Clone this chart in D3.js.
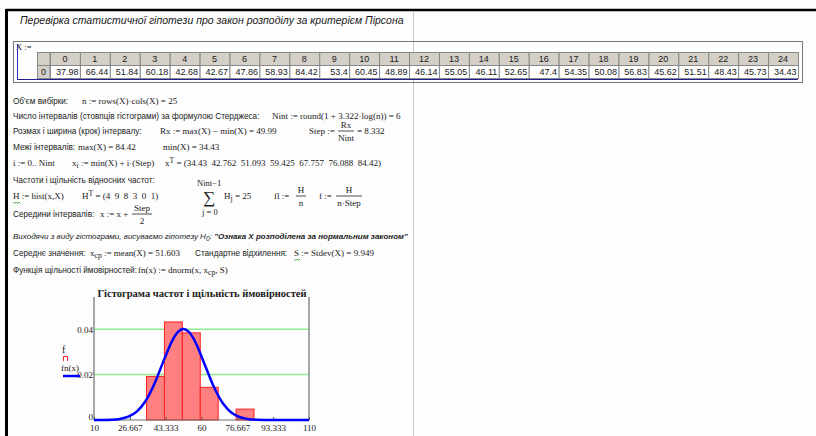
<!DOCTYPE html>
<html>
<head>
<meta charset="utf-8">
<script src="https://cdn.jsdelivr.net/npm/d3@7"></script>
<style>
  body { margin: 0; background: #fdfdfd; }
  text { fill: #1a1a1a; white-space: pre; }
</style>
</head>
<body>
<script>
// sample values X (row 0, columns 0..24)
var sampleX = [37.98, 66.44, 51.84, 60.18, 42.68, 42.67, 47.86, 58.93, 84.42, 53.4, 60.45, 48.89,
               46.14, 55.05, 46.11, 52.65, 47.4, 54.35, 50.08, 56.83, 45.62, 51.51, 48.43, 45.73, 34.43];
// interval bounds and counts as printed in the sheet
var intervalEdges = [34.43, 42.762, 51.093, 59.425, 67.757, 76.088, 84.42];
var freqH = [4, 9, 8, 3, 0, 1];
var nSample = 25, stepWidth = 8.332;
// density curve fn(x)
var densityX = [10, 14, 18, 22, 26, 30, 34, 38, 42, 46, 48, 50, 51.6, 54, 56, 58, 62, 66, 70, 74, 78, 82, 86, 90, 94, 98, 102, 106, 110];
var densityY = [0.00001, 0.00003, 0.00013, 0.00048, 0.00146, 0.0038, 0.00838, 0.01575, 0.02517, 0.03422, 0.03755, 0.03958, 0.0401,
                0.03895, 0.03637, 0.03261, 0.02323, 0.01407, 0.00726, 0.00318, 0.00119, 0.00038, 0.0001, 0.00003, 0, 0, 0, 0, 0];
// axis ticks
var xTickValues = [10, 26.667, 43.333, 60, 76.667, 93.333, 110];
var xTickLabels = ['10', '26.667', '43.333', '60', '76.667', '93.333', '110'];
var yTickValues = [0, 0.02, 0.04];
var yTickLabels = ['0', '0.02', '0.04'];

var W = 816, H = 436;
var SANS = 'Liberation Sans, Arial, sans-serif',
    SERIF = 'Liberation Serif, Times New Roman, serif';

var svg = d3.select('body').append('svg')
    .attr('width', W)
    .attr('height', H);

svg.append('rect').attr('width', W).attr('height', H).attr('fill', '#fdfdfd');

// page frame (black corner) and page break line
svg.append('line').attr('x1', 6).attr('x2', W).attr('y1', 10).attr('y2', 10)
    .attr('stroke', '#000').attr('stroke-width', 2.5);
svg.append('line').attr('x1', 6.5).attr('x2', 6.5).attr('y1', 9).attr('y2', H)
    .attr('stroke', '#000').attr('stroke-width', 3);
svg.append('line').attr('x1', 413.5).attr('x2', 413.5).attr('y1', 11).attr('y2', H)
    .attr('stroke', '#c8c8c8').attr('stroke-width', 1);

// helper: text made of pieces, piece = [string, kind] kind: sub / sup / bold / null
function mtext(x, y, parts, font, size, extra) {
    var t = svg.append('text').attr('x', x).attr('y', y)
        .style('font-family', font).style('font-size', size + 'px');
    if (extra) extra(t);
    parts.forEach(function(p) {
        if (typeof p === 'string') p = [p, null];
        var s = t.append('tspan').text(p[0]);
        if (p[1] === 'sub') s.attr('baseline-shift', '-25%').style('font-size', (size * 0.85) + 'px');
        if (p[1] === 'sup') s.attr('baseline-shift', '40%').style('font-size', (size * 0.85) + 'px');
        if (p[1] === 'bold') s.style('font-weight', 'bold');
    });
    return t;
}
function frac(xc, yLine, top, bottom, w, size) {
    svg.append('text').attr('x', xc).attr('y', yLine - 3).attr('text-anchor', 'middle')
        .style('font-family', SERIF).style('font-size', size + 'px').text(top);
    svg.append('line').attr('x1', xc - w / 2).attr('x2', xc + w / 2).attr('y1', yLine).attr('y2', yLine)
        .attr('stroke', '#222').attr('stroke-width', 0.8);
    svg.append('text').attr('x', xc).attr('y', yLine + 10).attr('text-anchor', 'middle')
        .style('font-family', SERIF).style('font-size', size + 'px').text(bottom);
}

var TS = 8.2, MS = 9;

// title
mtext(20, 24, ['Перевірка статистичної гіпотези про закон розподілу за критерієм Пірсона'], SANS, 10.5,
    function(t) { t.style('font-style', 'italic'); });

// matrix X
svg.append('rect').attr('x', 13.5).attr('y', 41.5).attr('width', 789).attr('height', 41)
    .attr('fill', 'none').attr('stroke', '#777').attr('stroke-width', 1);
mtext(16, 50, ['X :='], SERIF, 8.5);
svg.append('line').attr('x1', 17.5).attr('x2', 17.5).attr('y1', 44).attr('y2', 80)
    .attr('stroke', '#3030c0').attr('stroke-width', 1);
svg.append('line').attr('x1', 17).attr('x2', 798).attr('y1', 79.5).attr('y2', 79.5)
    .attr('stroke', '#202090').attr('stroke-width', 1.2);

var colX = d3.scaleBand().domain(d3.range(sampleX.length)).range([50, 798]);
var hdrY = 52, rowH = 13;
// index column
svg.append('rect').attr('x', 37.5).attr('y', hdrY + 0.5).attr('width', 12.5).attr('height', rowH)
    .attr('fill', '#d4d0c8').attr('stroke', '#888');
svg.append('rect').attr('x', 37.5).attr('y', hdrY + rowH + 0.5).attr('width', 12.5).attr('height', rowH)
    .attr('fill', '#d4d0c8').attr('stroke', '#888');
svg.append('text').attr('x', 43.5).attr('y', hdrY + rowH + 10).attr('text-anchor', 'middle')
    .style('font-family', SANS).style('font-size', '9px').text('0');

var cells = svg.selectAll('.cell').data(sampleX).enter().append('g').attr('class', 'cell');
cells.append('rect')
    .attr('x', function(d, i) { return colX(i) + 0.5; })
    .attr('y', hdrY + 0.5)
    .attr('width', colX.bandwidth())
    .attr('height', rowH)
    .attr('fill', '#d4d0c8').attr('stroke', '#888');
cells.append('rect')
    .attr('x', function(d, i) { return colX(i) + 0.5; })
    .attr('y', hdrY + rowH + 0.5)
    .attr('width', colX.bandwidth())
    .attr('height', rowH)
    .attr('fill', '#fff').attr('stroke', '#888');
cells.append('text')
    .attr('x', function(d, i) { return colX(i) + colX.bandwidth() / 2; })
    .attr('y', hdrY + 10)
    .attr('text-anchor', 'middle')
    .style('font-family', SANS).style('font-size', '9px')
    .text(function(d, i) { return i; });
cells.append('text')
    .attr('x', function(d, i) { return colX(i) + colX.bandwidth() - 1.5; })
    .attr('y', hdrY + rowH + 10)
    .attr('text-anchor', 'end')
    .style('font-family', SANS).style('font-size', '9px')
    .text(function(d) { return d; });

// worksheet lines
mtext(13, 104, ['Об\'єм вибірки:'], SANS, TS);
mtext(82, 104, ['n := rows(X)·cols(X) = 25'], SERIF, MS);

mtext(13, 119, ['Число інтервалів (стовпців гістограми) за формулою Стерджеса:'], SANS, TS);
mtext(272, 119, ['Nint := round(1 + 3.322·log(n)) = 6'], SERIF, MS);

mtext(13, 134, ['Розмах і ширина (крок) інтервалу:'], SANS, TS);
mtext(160, 134, ['Rx := max(X) − min(X) = 49.99'], SERIF, MS);
mtext(309, 134, ['Step :='], SERIF, MS);
frac(346, 131, 'Rx', 'Nint', 16, MS);
mtext(357, 134, ['= 8.332'], SERIF, MS);

mtext(13, 150, ['Межі інтервалів:'], SANS, TS);
mtext(78, 150, ['max(X) = 84.42'], SERIF, MS);
mtext(163, 150, ['min(X) = 34.43'], SERIF, MS);

mtext(13, 166, ['i := 0.. Nint'], SERIF, MS);
mtext(72, 166, ['x', ['i', 'sub'], ' := min(X) + i·(Step)'], SERIF, MS);
mtext(165, 166, ['x', ['T', 'sup'], ' = (34.43\u00a0\u00a042.762\u00a0\u00a051.093\u00a0\u00a059.425\u00a0\u00a067.757\u00a0\u00a076.088\u00a0\u00a084.42)'], SERIF, MS);

mtext(13, 183, ['Частоти і щільність відносних частот:'], SANS, TS);

mtext(13, 199, ['H := hist(x,X)'], SERIF, MS);
svg.append('path').attr('d', 'M13,202 l1.5,1.5 l1.5,-1.5 l1.5,1.5 l1.5,-1.5 l1.5,1.5')
    .attr('fill', 'none').attr('stroke', '#2a9a2a').attr('stroke-width', 0.8);
mtext(82, 199, ['H', ['T', 'sup'], ' = (4\u00a0\u00a09\u00a0\u00a08\u00a0\u00a03\u00a0\u00a00\u00a0\u00a01)'], SERIF, MS);
mtext(197, 186, ['Nint−1'], SERIF, 8.5);
mtext(203, 203, ['∑'], SERIF, 17);
mtext(202, 215, ['j = 0'], SERIF, 8.5);
mtext(224, 199, ['H', ['j', 'sub'], ' = 25'], SERIF, MS);
mtext(274, 199, ['fl :='], SERIF, MS);
frac(301, 196, 'H', 'n', 10, MS);
mtext(319, 199, ['f :='], SERIF, MS);
frac(349, 196, 'H', 'n·Step', 26, MS);

mtext(13, 217, ['Середини інтервалів:'], SANS, TS);
mtext(100, 217, ['x := x +'], SERIF, MS);
frac(142, 214, 'Step', '2', 20, MS);

mtext(13, 239, ['Виходячи з виду гістограми, висуваємо гіпотезу H', ['0', 'sub'], ': ',
                ['"Ознака X розподілена за нормальним законом"', 'bold']], SANS, 8,
    function(t) { t.style('font-style', 'italic'); });

mtext(13, 256, ['Середнє значення:'], SANS, TS);
mtext(90, 256, ['x', ['cp', 'sub'], ' := mean(X) = 51.603'], SERIF, MS);
mtext(195, 256, ['Стандартне відхилення:'], SANS, TS);
mtext(294, 256, ['S := Stdev(X) = 9.949'], SERIF, MS);
svg.append('path').attr('d', 'M294,259 l1.5,1.5 l1.5,-1.5 l1.5,1.5 l1.5,-1.5')
    .attr('fill', 'none').attr('stroke', '#2a9a2a').attr('stroke-width', 0.8);

mtext(13, 273, ['Функція щільності ймовірностей:'], SANS, TS);
mtext(138, 273, ['fn(x) := dnorm(x, x', ['cp', 'sub'], ', S)'], SERIF, MS);

// ---- histogram + density plot ----
var xScale = d3.scaleLinear().domain([10, 110]).range([94, 309]);
var yScale = d3.scaleLinear().domain([0, 0.0542]).range([420, 297]);

svg.append('text').attr('x', 202).attr('y', 297).attr('text-anchor', 'middle')
    .style('font-family', SERIF).style('font-size', '10.5px').style('font-weight', 'bold')
    .text('Гістограма частот і щільність ймовірностей');

// green grid lines
svg.selectAll('.grid').data(yTickValues.slice(1)).enter().append('line')
    .attr('class', 'grid')
    .attr('x1', xScale(10)).attr('x2', xScale(110))
    .attr('y1', function(d) { return yScale(d); })
    .attr('y2', function(d) { return yScale(d); })
    .attr('stroke', '#90ee90').attr('stroke-width', 1.5);

// bars f = H / (n Step)
svg.selectAll('.bar').data(freqH).enter().append('rect')
    .attr('class', 'bar')
    .attr('x', function(d, i) { return xScale(intervalEdges[i]); })
    .attr('width', function(d, i) { return xScale(intervalEdges[i + 1]) - xScale(intervalEdges[i]); })
    .attr('y', function(d) { return yScale(d / (nSample * stepWidth)); })
    .attr('height', function(d) { return yScale(0) - yScale(d / (nSample * stepWidth)); })
    .attr('fill', '#ff8080')
    .attr('stroke', function(d) { return d > 0 ? '#ff2020' : 'none'; })
    .attr('stroke-width', 1);

// frame lines (left, right, bottom)
svg.append('path')
    .attr('d', 'M' + xScale(10) + ',' + yScale(0.0542) + 'V' + yScale(0) + 'H' + xScale(110) + 'V' + yScale(0.0542))
    .attr('fill', 'none').attr('stroke', '#707070').attr('stroke-width', 1.2);

// axes
var xAxis = d3.axisBottom(xScale).tickValues(xTickValues)
    .tickFormat(function(d, i) { return xTickLabels[i]; })
    .tickSizeInner(-3).tickSizeOuter(0).tickPadding(5);
var gx = svg.append('g').attr('transform', 'translate(0,' + yScale(0) + ')').call(xAxis);
gx.select('.domain').remove();
gx.selectAll('line').attr('stroke', '#555');
gx.selectAll('text').style('font-family', SERIF).style('font-size', '9px').attr('fill', '#1a1a1a');

var yAxis = d3.axisLeft(yScale).tickValues(yTickValues)
    .tickFormat(function(d, i) { return yTickLabels[i]; })
    .tickSize(0).tickPadding(1);
var gy = svg.append('g').attr('transform', 'translate(' + xScale(10) + ',0)').call(yAxis);
gy.select('.domain').remove();
gy.selectAll('text').style('font-family', SERIF).style('font-size', '9px').attr('fill', '#1a1a1a')
    .attr('dy', function(d, i) { return i === 0 ? '-0.05em' : '0.32em'; });

// density curve
var line = d3.line()
    .x(function(d, i) { return xScale(densityX[i]); })
    .y(function(d) { return yScale(d); })
    .curve(d3.curveCatmullRom);
svg.append('path').datum(densityY)
    .attr('d', line)
    .attr('fill', 'none')
    .attr('stroke', '#0000ff')
    .attr('stroke-width', 2.5);

// legend
mtext(62, 353, ['f'], SERIF, 10);
svg.append('path').attr('d', 'M63.5,361 V356.5 H67.5 V361')
    .attr('fill', 'none').attr('stroke', '#ff2020').attr('stroke-width', 1);
mtext(61, 371, ['fn(x)'], SERIF, 9);
svg.append('line').attr('x1', 63).attr('x2', 80).attr('y1', 376).attr('y2', 376)
    .attr('stroke', '#0000ff').attr('stroke-width', 2.5);
</script>
</body>
</html>
